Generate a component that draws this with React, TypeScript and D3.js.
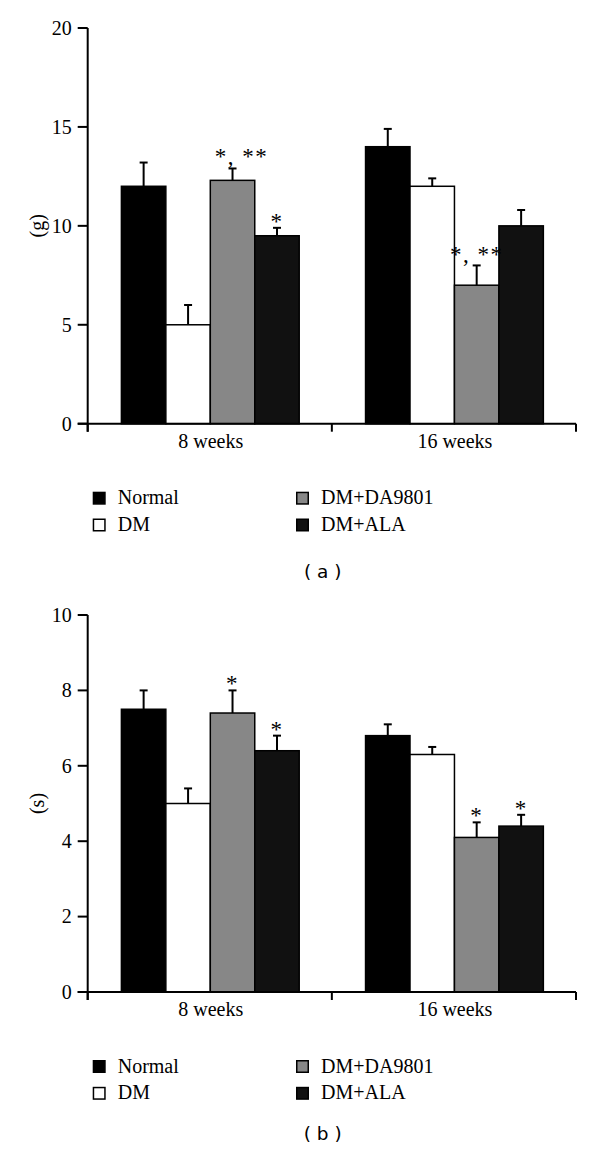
import React from "react";
import * as d3 from "d3";

const groups = ["8 weeks", "16 weeks"];
const seriesNames = ["Normal", "DM", "DM+DA9801", "DM+ALA"];
const seriesFill = ["#000000", "#ffffff", "#878787", "#111111"];

// Panel (a): grip strength (g)
const aMean = [
  [12, 5, 12.3, 9.5],
  [14, 12, 7, 10],
];
const aErr = [
  [1.2, 1.0, 0.6, 0.4],
  [0.9, 0.4, 1.0, 0.8],
];
const aTicks = [0, 5, 10, 15, 20];
const aNotes = [
  { g: 0, s: 2, t: "*, **", dx: 9, dy: -5 },
  { g: 0, s: 3, t: "*", dx: 0, dy: 0 },
  { g: 1, s: 2, t: "*, **", dx: 0, dy: -4 },
];

// Panel (b): time (s)
const bMean = [
  [7.5, 5, 7.4, 6.4],
  [6.8, 6.3, 4.1, 4.4],
];
const bErr = [
  [0.5, 0.4, 0.6, 0.4],
  [0.3, 0.2, 0.4, 0.3],
];
const bTicks = [0, 2, 4, 6, 8, 10];
const bNotes = [
  { g: 0, s: 2, t: "*", dx: 0, dy: 0 },
  { g: 0, s: 3, t: "*", dx: 0, dy: 0 },
  { g: 1, s: 2, t: "*", dx: 0, dy: 0 },
  { g: 1, s: 3, t: "*", dx: 0, dy: 0 },
];

const SERIF = "'Liberation Serif', 'Times New Roman', serif";
const SANS = "'DejaVu Sans', sans-serif";

type Note = { g: number; s: number; t: string; dx: number; dy: number };

type PanelProps = {
  mean: number[][];
  err: number[][];
  ticks: number[];
  notes: Note[];
  yMax: number;
  top: number;
  bottom: number;
  ylabel: string;
  caption: string;
  captionY: number;
};

function Panel({ mean, err, ticks, notes, yMax, top, bottom, ylabel, caption, captionY }: PanelProps) {
  const xLeft = 87.7;
  const xRight = 576;
  const x0 = d3.scaleBand<string>().domain(groups).range([xLeft, xRight]).padding(0);
  const x1 = d3.scaleBand<string>().domain(seriesNames).range([33.7, 211.5]).padding(0);
  const y = d3.scaleLinear().domain([0, yMax]).range([bottom, top]);
  const capW = 8;
  const fs = 20;

  const boundaries = [xLeft, ...groups.map((g) => (x0(g) as number) + x0.bandwidth())];

  return (
    <g>
      {/* bars */}
      {groups.map((g, gi) =>
        seriesNames.map((s, si) => {
          const bx = (x0(g) as number) + (x1(s) as number);
          const v = mean[gi][si];
          const e = err[gi][si];
          const cx = bx + x1.bandwidth() / 2;
          return (
            <g key={g + s}>
              <line x1={cx} x2={cx} y1={y(v)} y2={y(v + e)} stroke="#000" strokeWidth={2} />
              <line x1={cx - capW / 2} x2={cx + capW / 2} y1={y(v + e)} y2={y(v + e)} stroke="#000" strokeWidth={2} />
              <rect
                x={bx}
                y={y(v)}
                width={x1.bandwidth()}
                height={bottom - y(v)}
                fill={seriesFill[si]}
                stroke="#000"
                strokeWidth={1.5}
              />
            </g>
          );
        })
      )}
      {/* annotations */}
      {notes.map((n, i) => {
        const g = groups[n.g];
        const s = seriesNames[n.s];
        const cx = (x0(g) as number) + (x1(s) as number) + x1.bandwidth() / 2 + n.dx;
        const yy = y(mean[n.g][n.s] + err[n.g][n.s]) + 1 + n.dy;
        return (
          <text
            key={i}
            x={cx}
            y={yy}
            textAnchor="middle"
            fontFamily={SERIF}
            fontSize={23}
            letterSpacing={1.5}
            fill="#000"
            style={{ whiteSpace: "pre" }}
          >
            {n.t}
          </text>
        );
      })}
      {/* y axis */}
      <line x1={xLeft} x2={xLeft} y1={top} y2={bottom + 8} stroke="#000" strokeWidth={2} />
      {ticks.map((t) => (
        <g key={t}>
          <line x1={xLeft - 10} x2={xLeft} y1={y(t)} y2={y(t)} stroke="#000" strokeWidth={2} />
          <text x={xLeft - 16} y={y(t)} dy="0.34em" textAnchor="end" fontFamily={SERIF} fontSize={fs} fill="#000">
            {t}
          </text>
        </g>
      ))}
      <text
        transform={`translate(37,${(top + bottom) / 2}) rotate(-90)`}
        textAnchor="middle"
        dy="0.33em"
        fontFamily={SERIF}
        fontSize={fs}
        fill="#000"
      >
        {ylabel}
      </text>
      {/* x axis */}
      <line x1={xLeft - 10} x2={xRight} y1={bottom} y2={bottom} stroke="#000" strokeWidth={2} />
      {boundaries.map((bx, i) => (
        <line key={i} x1={bx} x2={bx} y1={bottom} y2={bottom + 8} stroke="#000" strokeWidth={2} />
      ))}
      {groups.map((g) => (
        <text
          key={g}
          x={(x0(g) as number) + x0.bandwidth() / 2 + 1}
          y={bottom + 24}
          textAnchor="middle"
          fontFamily={SERIF}
          fontSize={fs}
          fill="#000"
        >
          {g}
        </text>
      ))}
      {/* legend */}
      {seriesNames.map((s, i) => {
        const col = i < 2 ? 0 : 1;
        const row = i % 2;
        const lx = col === 0 ? 92.7 : 296;
        const ly = bottom + 68 + row * 26.8;
        return (
          <g key={s}>
            <rect x={lx + 0.75} y={ly + 0.75} width={11.5} height={11.5} fill={seriesFill[i]} stroke="#000" strokeWidth={1.5} />
            <text x={lx + 25} y={ly + 12.5} fontFamily={SERIF} fontSize={fs} fill="#000">
              {s}
            </text>
          </g>
        );
      })}
      <text x={322.7} y={captionY} textAnchor="middle" fontFamily={SANS} fontSize={18.5} fill="#000" style={{ whiteSpace: "pre" }}>
        {caption}
      </text>
    </g>
  );
}

export default function App() {
  return (
    <svg
      width={600}
      height={1151}
      viewBox="0 0 600 1151"
      style={{ position: "absolute", left: 0, top: 0, background: "#fff" }}
    >
      <rect x={0} y={0} width={600} height={1151} fill="#fff" />
      <Panel
        mean={aMean}
        err={aErr}
        ticks={aTicks}
        notes={aNotes}
        yMax={20}
        top={28}
        bottom={423.7}
        ylabel="(g)"
        caption="( a )"
        captionY={578}
      />
      <Panel
        mean={bMean}
        err={bErr}
        ticks={bTicks}
        notes={bNotes}
        yMax={10}
        top={615}
        bottom={992}
        ylabel="(s)"
        caption="( b )"
        captionY={1140}
      />
    </svg>
  );
}
